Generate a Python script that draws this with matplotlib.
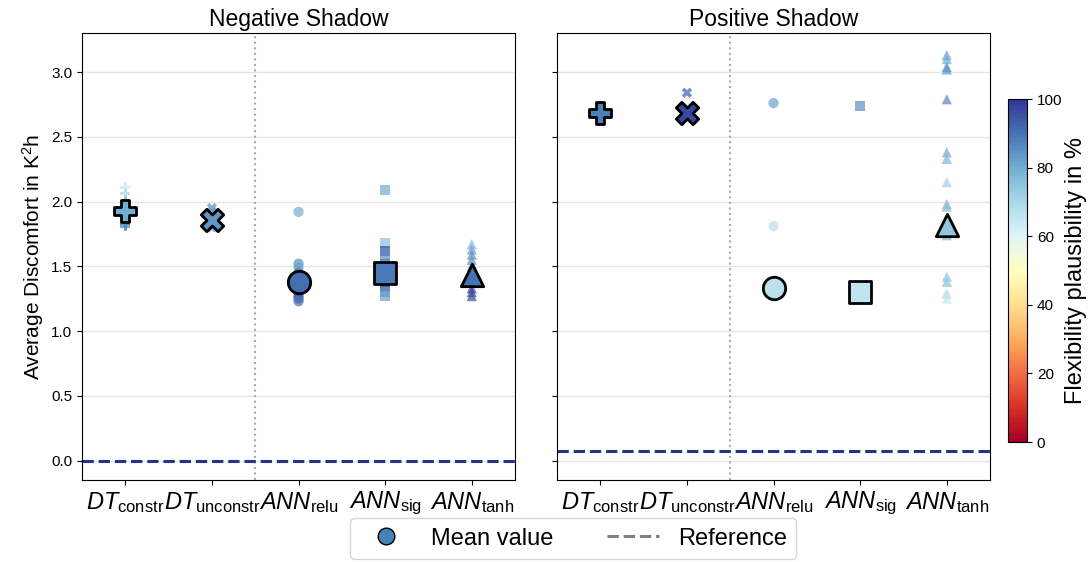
import matplotlib
matplotlib.use("Agg")
import matplotlib.pyplot as plt
import numpy as np
from matplotlib.lines import Line2D

plt.rcParams['font.family'] = ['Liberation Sans', 'DejaVu Sans']
plt.rcParams['mathtext.fontset'] = 'custom'
plt.rcParams['mathtext.rm'] = 'Liberation Sans'
plt.rcParams['mathtext.it'] = 'Liberation Sans:italic'

# categories / labels
models = ['DT_constr', 'DT_unconstr', 'ANN_relu', 'ANN_sig', 'ANN_tanh']
tick_labels = [r'$DT_{\mathrm{constr}}$', r'$DT_{\mathrm{unconstr}}$', r'$ANN_{\mathrm{relu}}$',
               r'$ANN_{\mathrm{sig}}$', r'$ANN_{\mathrm{tanh}}$']
markers = ['P', 'X', 'o', 's', '^']
titles = ['Negative Shadow', 'Positive Shadow']

# negative shadow: single runs (discomfort, flexibility)
neg_vals = [
    [2.11, 2.06, 2.00, 1.95, 1.88, 1.83, 1.81],
    [1.95, 1.92, 1.88, 1.84, 1.80],
    [1.92, 1.52, 1.49, 1.45, 1.40, 1.35, 1.30, 1.27, 1.25, 1.23],
    [2.09, 1.68, 1.62, 1.59, 1.52, 1.45, 1.38, 1.34, 1.30, 1.27],
    [1.67, 1.63, 1.59, 1.55, 1.50, 1.38, 1.33, 1.30, 1.27],
]
neg_flex = [
    [65, 70, 75, 78, 82, 85, 88],
    [85, 84, 85, 86, 85],
    [80, 85, 82, 88, 90, 92, 95, 97, 93, 90],
    [80, 75, 97, 85, 90, 88, 92, 97, 85, 82],
    [78, 82, 85, 84, 88, 92, 97, 98, 96],
]
neg_mean = [1.93, 1.86, 1.38, 1.45, 1.43]
neg_mean_flex = [80, 84, 91, 89, 90]

# positive shadow
pos_vals = [
    [2.69, 2.68],
    [2.84, 2.70, 2.66],
    [2.76, 1.81, 1.27],
    [2.74, 1.29, 1.28],
    [3.13, 3.10, 3.04, 3.02, 2.79, 2.38, 2.33, 2.15, 1.98, 1.96, 1.74, 1.42, 1.38, 1.29, 1.25],
]
pos_flex = [
    [88, 90],
    [93, 97, 98],
    [82, 67, 65],
    [85, 66, 66],
    [82, 80, 85, 84, 86, 80, 78, 72, 78, 76, 78, 74, 75, 70, 65],
]
pos_mean = [2.686, 2.686, 1.33, 1.305, 1.82]
pos_mean_flex = [88, 97, 67, 66, 74]

reference = [0.0, 0.077]

cmap = plt.get_cmap('RdYlBu')
norm = matplotlib.colors.Normalize(vmin=0, vmax=100)

fig = plt.figure(figsize=(10.88, 5.62), dpi=100)
ax1 = fig.add_axes([0.0754, 0.146, 0.398, 0.795])
ax2 = fig.add_axes([0.512, 0.146, 0.398, 0.795], sharey=ax1)
cax = fig.add_axes([0.9265, 0.2135, 0.0175, 0.61])

panels = [(ax1, neg_vals, neg_flex, neg_mean, neg_mean_flex),
          (ax2, pos_vals, pos_flex, pos_mean, pos_mean_flex)]

for k, (ax, vals, flex, mean, mean_flex) in enumerate(panels):
    for i in range(len(models)):
        x = np.full(len(vals[i]), i)
        ax.scatter(x, vals[i], c=flex[i], cmap=cmap, norm=norm, marker=markers[i],
                   s=55, alpha=0.7, linewidths=0, zorder=3)
        ax.scatter([i], [mean[i]], c=[mean_flex[i]], cmap=cmap, norm=norm, marker=markers[i],
                   s=260, edgecolors='black', linewidths=2, zorder=4)
    ax.axhline(reference[k], color='#2b2f91', linestyle='--', linewidth=2.2, zorder=2)
    ax.axvline(1.5, color='#aaaaaa', linestyle=':', linewidth=1.5, zorder=1)
    ax.set_xticks(range(len(models)))
    ax.set_xticklabels(tick_labels, fontsize=17)
    ax.set_xlim(-0.5, 4.5)
    ax.set_ylim(-0.15, 3.3)
    ax.set_yticks(np.arange(0, 3.01, 0.5))
    ax.tick_params(axis='y', labelsize=11)
    ax.grid(axis='y', color='#e6e6e6', linewidth=1, zorder=0)
    ax.set_axisbelow(True)
    ax.set_title(titles[k], fontsize=16.5, pad=5)

ax1.set_ylabel(r'Average Discomfort in K$^2$h', fontsize=15)
ax2.tick_params(axis='y', labelleft=False)

sm = matplotlib.cm.ScalarMappable(norm=norm, cmap=cmap)
cb = fig.colorbar(sm, cax=cax)
cb.set_ticks([0, 20, 40, 60, 80, 100])
cb.ax.tick_params(labelsize=11)
cb.set_label('Flexibility plausibility in %', fontsize=17, labelpad=2)

handles = [Line2D([], [], marker='o', color='none', markerfacecolor='#4682b4',
                  markeredgecolor='black', markersize=12, label='Mean value'),
           Line2D([], [], color='grey', linestyle='--', linewidth=2.2, label='Reference')]
fig.legend(handles=handles, loc='upper center', bbox_to_anchor=(0.527, 0.078), ncol=2,
           fontsize=17, frameon=True, handlelength=2.2, columnspacing=2.3, borderaxespad=0)

fig.savefig('out.png', dpi=100)
